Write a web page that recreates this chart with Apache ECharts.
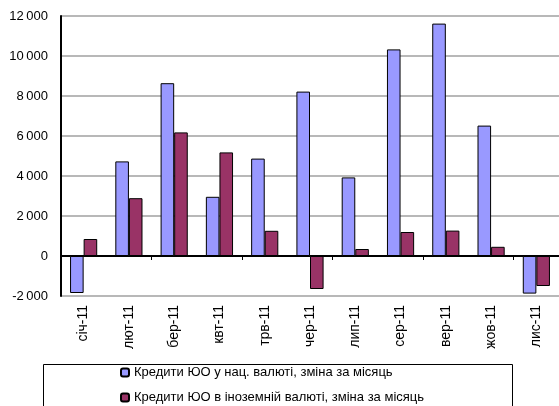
<!DOCTYPE html>
<html>
<head>
<meta charset="utf-8">
<script src="https://cdn.jsdelivr.net/npm/echarts@6/dist/echarts.min.js"></script>
<style>
  html, body { margin: 0; padding: 0; background: #fff; }
  #chart { width: 559px; height: 406px; }
</style>
</head>
<body>
<div id="chart"></div>
<script>
// Months of 2011
const months = ['січ-11', 'лют-11', 'бер-11', 'квт-11', 'трв-11', 'чер-11',
                'лип-11', 'сер-11', 'вер-11', 'жов-11', 'лис-11'];

// Monthly change in corporate loans, national currency
const loansNational = [-1850, 4730, 8640, 2960, 4870, 8220, 3930, 10330, 11620, 6520, -1880];
// Monthly change in corporate loans, foreign currency
const loansForeign = [850, 2890, 6180, 5180, 1260, -1650, 350, 1200, 1270, 460, -1500];

const seriesNames = [
  'Кредити ЮО у нац. валюті, зміна за місяць',
  'Кредити ЮО в іноземній валюті, зміна за місяць'
];

// Y axis scale
const yMin = -2000, yMax = 12000, yStep = 2000;

const fmt = v => {
  const s = String(Math.abs(v)).replace(/\B(?=(\d{3})+(?!\d))/g, '\u2009');
  return (v < 0 ? '-' : '') + s;
};

const font = 'Liberation Sans, Arial, sans-serif';
const chart = echarts.init(document.getElementById('chart'), null, { renderer: 'canvas' });

chart.setOption({
  backgroundColor: '#fff',
  animation: false,
  grid: { left: 61, top: 16, width: 501, height: 280, containLabel: false },
  xAxis: [
    {
      type: 'category',
      data: months,
      position: 'bottom',
      axisLine: { show: false, onZero: false },
      axisTick: { show: false },
      axisLabel: { rotate: 90, margin: 9, color: '#000', fontFamily: font, fontSize: 14 },
      splitLine: { show: false }
    },
    {
      type: 'category',
      data: months,
      position: 'bottom',
      axisLine: { show: true, onZero: true, lineStyle: { color: '#000', width: 2 } },
      axisTick: { show: true, length: 4, lineStyle: { color: '#000', width: 1 } },
      axisLabel: { show: false },
      splitLine: { show: false }
    }
  ],
  yAxis: {
    type: 'value',
    min: yMin, max: yMax, interval: yStep,
    axisLine: { show: true, lineStyle: { color: '#000', width: 2 } },
    axisTick: { show: false },
    axisLabel: { margin: 13, color: '#000', fontFamily: font, fontSize: 13, formatter: fmt },
    splitLine: { show: true, lineStyle: { color: '#a0a0a0', width: 1.5 } }
  },
  legend: {
    orient: 'vertical',
    left: 120,
    top: 366,
    padding: 0,
    itemWidth: 8,
    itemHeight: 8,
    itemGap: 12,
    textStyle: { color: '#000', fontFamily: font, fontSize: 13 },
    data: seriesNames
  },
  graphic: [{
    type: 'rect',
    left: 41, top: 362,
    shape: { width: 469, height: 60 },
    style: { fill: 'none', stroke: '#000', lineWidth: 1 },
    z: -1
  }],
  series: [
    {
      name: seriesNames[0],
      type: 'bar',
      xAxisIndex: 0,
      data: loansNational,
      barGap: 0,
      barCategoryGap: '40%',
      itemStyle: { color: '#9999ff', borderColor: '#000', borderWidth: 1 }
    },
    {
      name: seriesNames[1],
      type: 'bar',
      xAxisIndex: 0,
      data: loansForeign,
      barGap: 0,
      barCategoryGap: '40%',
      itemStyle: { color: '#993366', borderColor: '#000', borderWidth: 1 }
    }
  ]
});
</script>
</body>
</html>
